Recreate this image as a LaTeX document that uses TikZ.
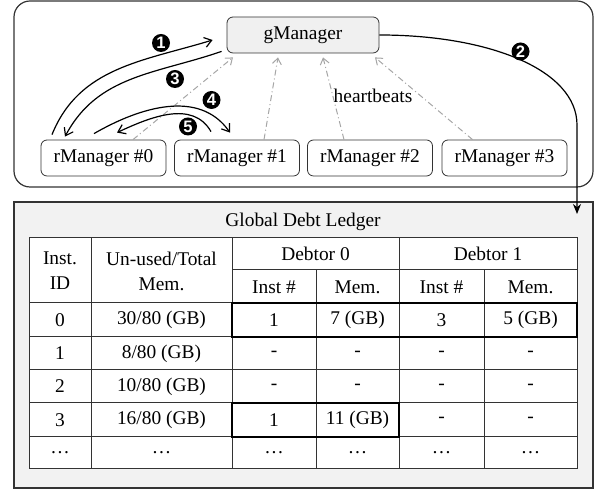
\documentclass[tikz,border=0pt]{standalone}
\usepackage{fontspec}
\setmainfont{Liberation Serif}
\newfontfamily\numfont{Liberation Sans}
\usetikzlibrary{
    arrows.meta,
    calc,
    positioning
}

\begin{document}
\begin{tikzpicture}[x=0.5pt, y=-0.5pt, font=\fontsize{9.7}{12.5}\selectfont,
    mgr/.style={draw=black!80, rounded corners=3pt, minimum width=62.5pt, minimum height=18pt, inner sep=0pt},
    stepnum/.style={circle, fill=black, text=white, inner sep=0pt, minimum size=9pt, font=\numfont\bfseries\fontsize{8.3}{8.3}\selectfont},
    flow/.style={line width=0.6pt, -{Straight Barb[length=3.5pt, width=5pt]}},
    hb/.style={draw=black!35, line width=0.5pt, dash pattern=on 3pt off 1.5pt on 0.5pt off 1.5pt, -{Straight Barb[length=3pt, width=4.5pt]}},
    grid/.style={draw=black!80, line width=0.5pt},
    thickgrid/.style={draw=black, line width=1pt}]
                        \useasboundingbox (0,0) rectangle (599,490);
                        % managers
                        \draw[black!80, line width=0.6pt, rounded corners=8pt] (14,1) rectangle (593,187);
                        \node[mgr, fill=black!6, minimum width=76pt] (gm) at (303,35) {gManager};
                        \node[mgr] (r0) at (103.5,158) {rManager \#0};
                        \node[mgr] (r1) at (237,158) {rManager \#1};
                        \node[mgr] (r2) at (370,158) {rManager \#2};
                        \node[mgr] (r3) at (504.5,158) {rManager \#3};
                        \draw[hb] ([xshift=14.75pt]r0.north) -- ([xshift=-35pt, yshift=-2pt]gm.south);
                        \draw[hb] ([xshift=13.5pt]r1.north) -- ([xshift=-12.5pt, yshift=-2pt]gm.south);
                        \draw[hb] ([xshift=-13pt]r2.north) -- ([xshift=10pt, yshift=-2pt]gm.south);
                        \draw[hb] ([xshift=-16pt]r3.north) -- ([xshift=36pt, yshift=-2pt]gm.south);
                        \node (hbtxt) at (373,96) {heartbeats};
                        \draw[flow] ([xshift=-25.75pt, yshift=2.5pt]r0.north) to[out=68, in=197] ([xshift=-7pt, yshift=-2.5pt]gm.west);
                        \draw[flow] ([xshift=-2.5pt, yshift=1pt]gm.south west) to[out=199, in=62] ([xshift=-19.25pt, yshift=1.5pt]r0.north);
                        \draw[flow] ([xshift=-4.75pt, yshift=3pt]r0.north) to[out=30, in=125] ([xshift=-3.5pt, yshift=3.5pt]r1.north);
                        \draw[flow] ([xshift=-13pt, yshift=4pt]r1.north) to[out=120, in=25] ([xshift=6.75pt, yshift=3.5pt]r0.north);
                        \node[stepnum] (s1) at (161,43) {1};
                        \node[stepnum] (s2) at (520.5,51.5) {2};
                        \node[stepnum] (s3) at (175,79) {3};
                        \node[stepnum] (s4) at (211.5,100) {4};
                        \node[stepnum] (s5) at (188,126.5) {5};
                        % ledger
                        \draw[black!80, line width=0.6pt, fill=black!5] (14,202) rectangle (593,488);
                        \node (ttl) at (303,222) {Global Debt Ledger};
                        \coordinate (ledin) at (577,214);
                        \draw[line width=0.6pt, -{Stealth[length=5pt, width=4pt]}] (gm.east) .. controls +(110,0) and +(0,-55) .. ($(ledin)+(0,-89)$) -- (ledin);
                        \fill[white] (29,238) rectangle (577,469);
                        \draw[grid] (29,238) rectangle (577,469);
                        \foreach \yy in {303,337,370,403,437}
                            \draw[grid] (29,\yy) -- (577,\yy);
                        \draw[grid] (232,270) -- (577,270);
                        \foreach \xx in {91,232,399}
                            \draw[grid] (\xx,238) -- (\xx,469);
                        \foreach \xx in {316,484}
                            \draw[grid] (\xx,270) -- (\xx,469);
                        \draw[thickgrid] (232,303) rectangle (577,337);
                        \draw[thickgrid] (232,403) rectangle (399,437);
                        \node[align=center] (hid) at (60,271) {Inst.\\ID};
                        \node[align=center] (hmem) at (161.5,271) {Un-used/Total\\Mem.};
                        \node (hd0) at (315.5,254) {Debtor 0};
                        \node (hd1) at (488,254) {Debtor 1};
                        \node (hi0) at (274,287) {Inst \#};
                        \node (hm0) at (357.5,287) {Mem.};
                        \node (hi1) at (441.5,287) {Inst \#};
                        \node (hm1) at (530.5,287) {Mem.};
                        \foreach \yy/\ca/\cb/\cc/\cd/\ce/\cf [count=\i] in {
                            320/0/{30/80 (GB)}/1/7 (GB)/3/5 (GB),
                            353.5/1/{8/80 (GB)}/-/-/-/-,
                            386.5/2/{10/80 (GB)}/-/-/-/-,
                            420/3/{16/80 (GB)}/1/11 (GB)/-/-,
                            453/\dots/\dots/\dots/\dots/\dots/\dots} {
                            \node (c\i-1) at (60,\yy) {\ca};
                            \node (c\i-2) at (161.5,\yy) {\cb};
                            \node (c\i-3) at (274,\yy) {\cc};
                            \node (c\i-4) at (357.5,\yy) {\cd};
                            \node (c\i-5) at (441.5,\yy) {\ce};
                            \node (c\i-6) at (530.5,\yy) {\cf};
                        }
                    \end{tikzpicture}
\end{document}
